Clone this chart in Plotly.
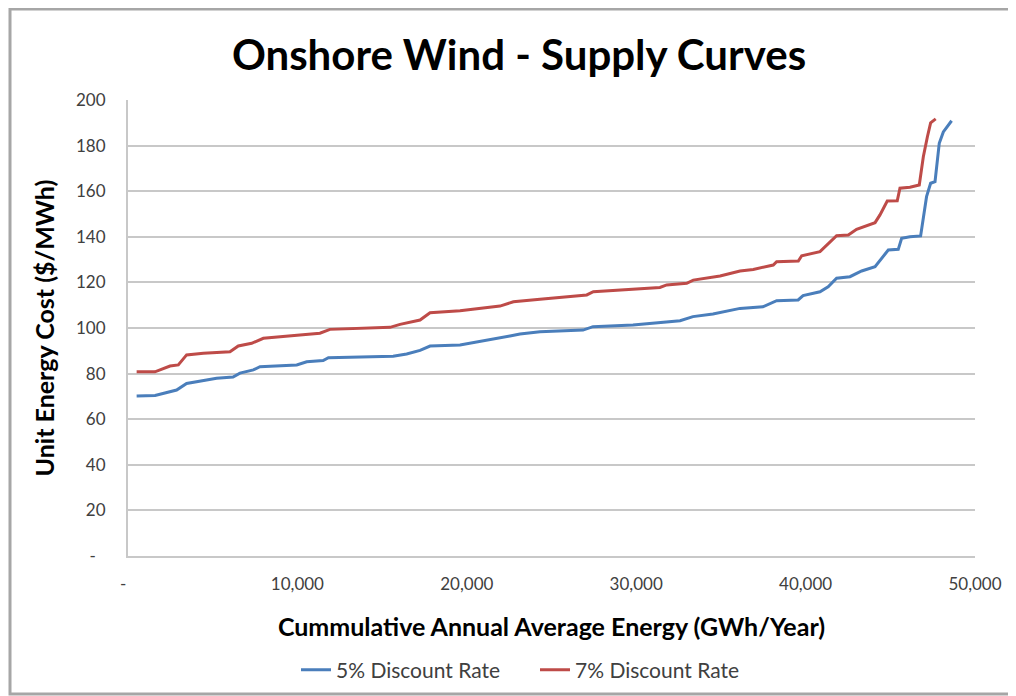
import plotly.graph_objects as go

# 5% discount rate curve
x5 = [510, 1600, 2870, 3460, 4640, 5230, 6200, 6610, 7400, 7790, 9960, 10550, 11520, 11830,
      15650, 16450, 17240, 17830, 19600, 21370, 22550, 23140, 24320, 26860, 27450, 29810,
      31400, 32590, 33350, 34530, 36130, 37480, 38290, 39560, 39850, 40850, 41330, 41830,
      42620, 43310, 44100, 44490, 44880, 45470, 45670, 46160, 46790, 47140, 47380, 47640,
      47890, 48130, 48620]
y5 = [70.2, 70.4, 72.8, 75.7, 77.2, 78.0, 78.5, 80.2, 81.6, 83.0, 83.8, 85.2, 85.7, 87.0,
      87.6, 88.6, 90.2, 92.1, 92.5, 94.7, 96.5, 97.4, 98.4, 99.1, 100.6, 101.3,
      102.3, 103.2, 105.0, 106.1, 108.6, 109.3, 112.0, 112.3, 114.2, 115.9, 118.1, 121.8,
      122.5, 125.0, 126.9, 130.6, 134.2, 134.5, 139.3, 140.0, 140.4, 157.6, 163.5, 164.2,
      181.0, 186.0, 190.9]

# 7% discount rate curve
x7 = [510, 1590, 2480, 2970, 3460, 4450, 6020, 6510, 7300, 7990, 10150, 11330, 11920, 15470,
      16060, 17240, 17830, 19600, 21960, 22750, 24320, 27080, 27470, 29830, 31400, 31800,
      32980, 33370, 34950, 36130, 36910, 38090, 38290, 39570, 39770, 40850, 41340, 41830,
      42520, 43010, 44100, 44390, 44820, 45410, 45570, 46160, 46710, 46950, 47190, 47380,
      47680]
y7 = [80.8, 80.8, 83.3, 83.8, 88.2, 88.9, 89.6, 92.1, 93.3, 95.5, 96.9, 97.7, 99.4, 100.3,
      101.6, 103.5, 106.7, 107.6, 109.6, 111.5, 112.6, 114.5, 115.9, 117.0, 117.8, 118.9,
      119.6, 121.0, 122.8, 125.0, 125.7, 127.6, 129.1, 129.4, 131.7, 133.5, 136.8, 140.5,
      140.8, 143.3, 146.2, 149.6, 155.7, 155.8, 161.3, 161.7, 162.7, 175.1, 183.9, 190.0,
      191.7]

series_names = ["5% Discount Rate", "7% Discount Rate"]
PAD = "<span style='color:white'>0</span>"
y_tickvals = [0, 20, 40, 60, 80, 100, 120, 140, 160, 180, 200]
y_ticktext = ["-" + PAD, "20", "40", "60", "80", "100", "120", "140", "160", "180", "200"]
x_tickvals = [0, 10000, 20000, 30000, 40000, 50000]
x_ticktext = ["-" + PAD, "10,000", "20,000", "30,000", "40,000", "50,000"]

FONT = "Lato"

fig = go.Figure()
fig.add_trace(go.Scatter(x=x5, y=y5, mode="lines", name=series_names[0],
                         line=dict(color="#4A7EBB", width=3)))
fig.add_trace(go.Scatter(x=x7, y=y7, mode="lines", name=series_names[1],
                         line=dict(color="#BE4B48", width=3)))

# page body has an 8px margin; figure coordinates = page coordinates - 8
OFF = 8
W, H = 1008, 688
L, R, T, B = 128 - OFF, W - (975 - OFF), 100 - OFF, H - (556 - OFF)
pw, ph = W - L - R, H - T - B


def px_x(px):
    return (px - OFF - L) / pw


def px_y(py):
    return (H - B - (py - OFF)) / ph


fig.add_shape(type="rect", xref="paper", yref="paper",
              x0=px_x(10), x1=px_x(1013), y0=px_y(694), y1=px_y(9),
              line=dict(color="#A6A6A6", width=3), layer="below")

fig.update_layout(
    width=W, height=H,
    margin=dict(l=L, r=R, t=T, b=B, autoexpand=False),
    paper_bgcolor="white", plot_bgcolor="white",
    font=dict(family=FONT, color="#404040"),
    title=dict(text="<b>Onshore Wind - Supply Curves</b>", x=(519 - OFF) / W, xanchor="center",
               y=1 - (55 - OFF) / H, yanchor="middle",
               font=dict(family=FONT, size=42, color="#000000")),
    showlegend=True,
    legend=dict(orientation="h", x=px_x(296), xanchor="left", y=px_y(670), yanchor="middle",
                font=dict(family=FONT, size=21, color="#404040"),
                tracegroupgap=0, entrywidth=194),
    xaxis=dict(range=[0, 50000], tickvals=x_tickvals, ticktext=x_ticktext,
               showgrid=False, zeroline=False, showline=True, linecolor="#C8C8C8",
               linewidth=2, ticks="", ticklabelstandoff=12, automargin=False,
               tickfont=dict(family=FONT, size=17, color="#404040"),
               title=dict(text="<b>Cummulative Annual Average Energy (GWh/Year)</b>",
                          font=dict(family=FONT, size=25, color="#000000"), standoff=25)),
    yaxis=dict(range=[0, 200], tickvals=y_tickvals, ticktext=y_ticktext,
               showgrid=True, gridcolor="#C8C8C8", gridwidth=2, zeroline=False,
               showline=True, linecolor="#C8C8C8", linewidth=2, ticks="",
               ticklabelstandoff=17, automargin=False,
               tickfont=dict(family=FONT, size=17, color="#404040"),
               title=dict(text="<b>Unit Energy Cost ($/MWh)</b>",
                          font=dict(family=FONT, size=25, color="#000000"), standoff=14)),
)

fig.write_html("out.html")
